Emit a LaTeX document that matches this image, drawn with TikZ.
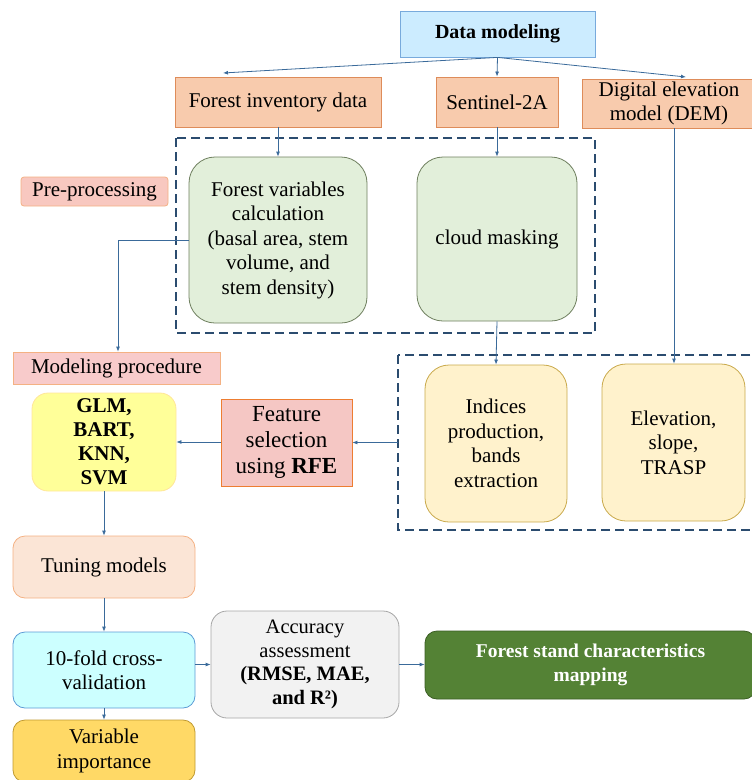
\documentclass[tikz,border=0pt]{standalone}
\usepackage{fontspec}
\setmainfont{Liberation Serif}
\usetikzlibrary{arrows.meta,calc}
\definecolor{arr}{HTML}{3A6A9A}
\definecolor{dashc}{HTML}{2B4C6F}
\tikzset{
  base/.style={draw, line width=0.8pt, align=center, inner sep=0pt, font=\fontsize{21}{24.5}\selectfont},
  rbox/.style={base, rounded corners=14pt},
  conn/.style={draw=arr, line width=0.8pt, -{Latex[length=5pt,width=4pt]}},
  dbox/.style={draw=dashc, line width=1.4pt, dash pattern=on 9pt off 5pt}
}
\begin{document}
\begin{tikzpicture}[x=1pt,y=-1pt]
\useasboundingbox (0,0) rectangle (752,780);
% dashed boxes
\draw[dbox] (176,138) rectangle (595,333);
\draw[dbox] (398,355) rectangle (770,530);
% top
\node[base, fill={rgb,255:red,204;green,236;blue,255}, draw={rgb,255:red,120;green,170;blue,220}, minimum width=195pt, minimum height=46pt, font=\fontsize{20}{24}\selectfont\bfseries] (dm) at (497.5,34) {Data modeling};
\node[base, fill={rgb,255:red,248;green,203;blue,173}, draw={rgb,255:red,222;green,140;blue,90}, minimum width=206pt, minimum height=50pt] (fi) at (278,102) {Forest inventory data};
\node[base, fill={rgb,255:red,248;green,203;blue,173}, draw={rgb,255:red,222;green,140;blue,90}, minimum width=122pt, minimum height=50pt] (s2) at (497,102) {Sentinel-2A};
\node[base, fill={rgb,255:red,248;green,203;blue,173}, draw={rgb,255:red,222;green,140;blue,90}, minimum width=174pt, minimum height=49pt] (dem) at (669,103.5) {Digital elevation\\model (DEM)};
% preprocessing
\node[rbox, fill={rgb,255:red,226;green,239;blue,218}, draw={rgb,255:red,110;green,127;blue,94}, rounded corners=26pt, minimum width=178pt, minimum height=166pt] (fv) at (278,240) {Forest variables\\calculation\\(basal area, stem\\volume, and\\stem density)};
\node[rbox, fill={rgb,255:red,226;green,239;blue,218}, draw={rgb,255:red,110;green,127;blue,94}, rounded corners=26pt, minimum width=160pt, minimum height=164pt] (cm) at (497,239) {cloud masking};
\node[base, rounded corners=3pt, fill={rgb,255:red,248;green,200;blue,192}, draw={rgb,255:red,244;green,177;blue,131}, minimum width=147pt, minimum height=29pt] (pre) at (94.5,191.5) {Pre-processing};
\node[base, fill={rgb,255:red,248;green,203;blue,203}, draw={rgb,255:red,244;green,177;blue,131}, minimum width=207pt, minimum height=32pt] (mp) at (116.5,368) {Modeling procedure};
% lower right
\node[rbox, rounded corners=24pt, fill={rgb,255:red,255;green,242;blue,204}, draw={rgb,255:red,201;green,169;blue,75}, minimum width=142pt, minimum height=157pt] (ind) at (496,443.5) {Indices\\production,\\bands\\extraction};
\node[rbox, rounded corners=24pt, fill={rgb,255:red,255;green,242;blue,204}, draw={rgb,255:red,201;green,169;blue,75}, minimum width=143pt, minimum height=157pt] (elev) at (673.5,442.5) {Elevation,\\slope,\\TRASP};
\node[base, fill={rgb,255:red,245;green,199;blue,196}, draw={rgb,255:red,237;green,125;blue,49}, minimum width=131pt, minimum height=87pt, font=\fontsize{23}{26}\selectfont] (fs) at (286.5,442.5) {Feature\\selection\\using \textbf{RFE}};
\node[rbox, rounded corners=16pt, fill={rgb,255:red,255;green,255;blue,153}, draw={rgb,255:red,255;green,230;blue,153}, minimum width=144pt, minimum height=98pt, font=\fontsize{21}{24}\selectfont\bfseries] (glm) at (104,442) {GLM,\\BART,\\KNN,\\SVM};
% bottom
\node[rbox, rounded corners=12pt, fill={rgb,255:red,251;green,229;blue,214}, draw={rgb,255:red,244;green,177;blue,131}, minimum width=182pt, minimum height=62pt] (tun) at (104,567) {Tuning models};
\node[rbox, rounded corners=12pt, fill={rgb,255:red,204;green,255;blue,255}, draw={rgb,255:red,91;green,155;blue,213}, minimum width=182pt, minimum height=76pt] (cv) at (104,670) {10-fold cross-\\validation};
\node[rbox, rounded corners=16pt, fill={rgb,255:red,242;green,242;blue,242}, draw={rgb,255:red,166;green,166;blue,166}, minimum width=188pt, minimum height=107pt, font=\fontsize{20.5}{23.5}\selectfont] (acc) at (305,664.5) {Accuracy\\assessment\\\textbf{(RMSE, MAE,}\\\textbf{and R²)}};
\node[rbox, rounded corners=12pt, fill={rgb,255:red,84;green,130;blue,53}, draw={rgb,255:red,59;green,94;blue,36}, text=white, minimum width=331pt, minimum height=68pt, font=\fontsize{19.5}{24}\selectfont\bfseries] (fsc) at (590.5,665) {Forest stand characteristics\\mapping};
\node[rbox, rounded corners=12pt, fill={rgb,255:red,255;green,217;blue,102}, draw={rgb,255:red,192;green,154;blue,48}, minimum width=182pt, minimum height=62pt] (vi) at (104,751) {Variable\\importance};
% coordinates
\coordinate (t1) at (223,73);
\coordinate (t3) at (686,77);
\coordinate (d2w) at (398,442.5);
\coordinate (bend) at (118,240);
% connectors
\draw[conn] (dm.south) -- (t1);
\draw[conn] (dm.south) -- (s2.north);
\draw[conn] (dm.south) -- (t3);
\draw[conn] (fi.south -| fv.north) -- (fv.north);
\draw[conn] (s2.south) -- (cm.north);
\draw[conn] (fv.west |- bend) -- (bend) -- (bend |- mp.north);
\draw[conn] (cm.south) -- (ind.north);
\draw[conn] ($(dem.south)+(5,0)$) -- ($(elev.north)+(0.5,0)$);
\draw[conn] (d2w) -- (fs.east |- d2w);
\draw[conn] (fs.west |- glm.east) -- (glm.east);
\draw[conn] (glm.south) -- (tun.north);
\draw[conn] (tun.south) -- (cv.north);
\draw[conn] (cv.east |- acc.west) -- (acc.west);
\draw[conn] (acc.east) -- (fsc.west |- acc.east);
\draw[conn] (cv.south) -- (vi.north);
\end{tikzpicture}
\end{document}
